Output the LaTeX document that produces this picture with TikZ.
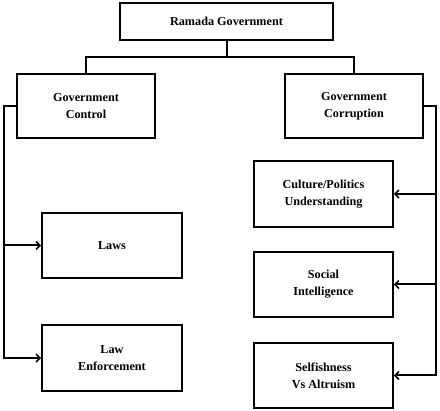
\documentclass[tikz,border=0pt]{standalone}
\usepackage{fontspec}
\setmainfont{Liberation Serif}
\usetikzlibrary{arrows.meta}
\begin{document}
\begin{tikzpicture}[x=1pt,y=-1pt,
  box/.style={draw,line width=1.6pt,align=center,inner sep=0pt,
    font=\fontsize{12.2}{17}\selectfont\bfseries},
  conn/.style={line width=2pt},
  arr/.style={conn,-{Straight Barb[length=4pt,width=8pt,line width=1.6pt]}}]
\useasboundingbox (0,0) rectangle (440,411);
\node[box,minimum width=213pt,minimum height=37pt] (top) at (226.5,21.5) {Ramada Government};
\node[box,minimum width=138pt,minimum height=64pt] (ctrl) at (86,106) {Government\\Control};
\node[box,minimum width=138pt,minimum height=64pt] (corr) at (354,106) {Government\\Corruption};
\node[box,minimum width=140pt,minimum height=65pt] (laws) at (112,245.5) {Laws};
\node[box,minimum width=140pt,minimum height=66pt] (lawenf) at (112,358) {Law\\Enforcement};
\node[box,minimum width=139pt,minimum height=66pt] (cult) at (323.5,194) {Culture/Politics\\Understanding};
\node[box,minimum width=139pt,minimum height=65pt] (soc) at (323.5,284.5) {Social\\Intelligence};
\node[box,minimum width=139pt,minimum height=65pt] (self) at (323.5,375.5) {Selfishness\\Vs Altruism};
\coordinate (bus) at (0,57);
\coordinate (L) at (4,0);
\coordinate (R) at (436,0);
\draw[conn] (top.south) -- (top.south |- bus);
\draw[conn] (ctrl.north) -- (ctrl.north |- bus) -- (corr.north |- bus) -- (corr.north);
\draw[arr] (ctrl.west) -- (ctrl.west -| L) -- (lawenf.west -| L) -- (lawenf.west);
\draw[arr] (laws.west -| L) -- (laws.west);
\draw[arr] (corr.east) -- (corr.east -| R) -- (self.east -| R) -- (self.east);
\draw[arr] (cult.east -| R) -- (cult.east);
\draw[arr] (soc.east -| R) -- (soc.east);
\end{tikzpicture}
\end{document}
